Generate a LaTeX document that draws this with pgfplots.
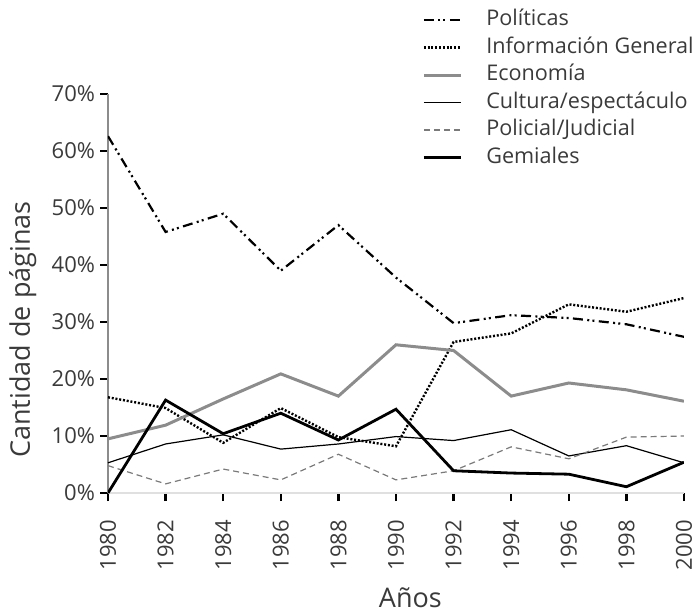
\documentclass[border=0pt]{standalone}
\usepackage{pgfplots}
\pgfplotsset{compat=1.18}
\usepackage{fontspec}
\setmainfont{Open Sans}
\definecolor{txt}{HTML}{3A3A3A}
\definecolor{eco}{HTML}{8C8C8C}
\definecolor{pol}{HTML}{7A7A7A}
\begin{document}
\begin{tikzpicture}
\useasboundingbox (0,0) rectangle (349pt,306pt);
\begin{axis}[
  at={(54pt,59.5pt)}, anchor=south west,
  scale only axis, width=288pt, height=199.5pt,
  xmin=1980, xmax=2000, ymin=0, ymax=70,
  axis x line*=bottom, axis y line*=left,
  x axis line style={color=black!12, line width=0.6pt},
  y axis line style={color=black!45, line width=0.6pt},
  xtick={1980,1982,...,2000}, ytick={0,10,...,70},
  tick align=outside, major tick length=4pt,
  tick style={black, line width=1.2pt},
  /pgf/number format/assume math mode=true,
  /pgf/number format/1000 sep={},
  ticklabel style={font=\fontsize{11}{13}\selectfont, text=txt},
  yticklabel={\pgfmathprintnumber{\tick}\%},
  yticklabel style={xshift=1pt},
  xticklabel style={rotate=90, anchor=east},
  xticklabel shift=6pt,
  xlabel={Años}, ylabel={Cantidad de páginas},
  label style={font=\fontsize{13.5}{16}\selectfont, text=txt},
  xlabel style={at={(axis description cs:0.525,-0.263)}, anchor=center},
  ylabel style={at={(axis description cs:-0.148,0.41)}, anchor=center},
  legend style={draw=none, fill=none, at={(axis description cs:0.545,1.212)}, anchor=north west,
    inner sep=0pt, row sep=3.55pt,
    font=\fontsize{10.8}{13}\selectfont, text=txt,
    nodes={text height=8pt, text depth=2.2pt, inner sep=0pt},
    /tikz/every odd column/.append style={column sep=12pt}},
  legend cell align=left,
  legend image code/.code={\draw[#1] (0pt,0pt) -- (18.5pt,0pt);},
]
\addplot[black, line width=1.1pt, dash pattern=on 5pt off 2.2pt on 1pt off 1.6pt on 1pt off 2.2pt] coordinates {
(1980,62.6) (1982,45.8) (1984,49.0) (1986,39.0) (1988,47.0) (1990,37.8) (1992,29.8) (1994,31.2) (1996,30.7) (1998,29.6) (2000,27.4)};
\addlegendentry{Políticas}
\addplot[black, line width=1.2pt, dash pattern=on 1pt off 0.9pt] coordinates {
(1980,16.8) (1982,14.9) (1984,8.8) (1986,14.9) (1988,9.8) (1990,8.2) (1992,26.5) (1994,28.0) (1996,33.1) (1998,31.8) (2000,34.2)};
\addlegendentry{Información General}
\addplot[eco, line width=1.5pt] coordinates {
(1980,9.5) (1982,11.9) (1984,16.5) (1986,20.9) (1988,17.0) (1990,26.0) (1992,25.0) (1994,17.0) (1996,19.3) (1998,18.1) (2000,16.1)};
\addlegendentry{Economía}
\addplot[black, line width=0.6pt] coordinates {
(1980,5.3) (1982,8.6) (1984,10.2) (1986,7.7) (1988,8.6) (1990,9.9) (1992,9.2) (1994,11.1) (1996,6.5) (1998,8.3) (2000,5.3)};
\addlegendentry{Cultura/espectáculo}
\addplot[pol, line width=0.6pt, dash pattern=on 3pt off 2pt] coordinates {
(1980,4.8) (1982,1.6) (1984,4.2) (1986,2.3) (1988,6.8) (1990,2.3) (1992,3.9) (1994,8.1) (1996,6.0) (1998,9.8) (2000,10.0)};
\addlegendentry{Policial/Judicial}
\addplot[black, line width=1.4pt] coordinates {
(1980,0) (1982,16.3) (1984,10.4) (1986,14.0) (1988,9.3) (1990,14.7) (1992,3.9) (1994,3.5) (1996,3.3) (1998,1.1) (2000,5.4)};
\addlegendentry{Gemiales}
\end{axis}
\end{tikzpicture}
\end{document}
